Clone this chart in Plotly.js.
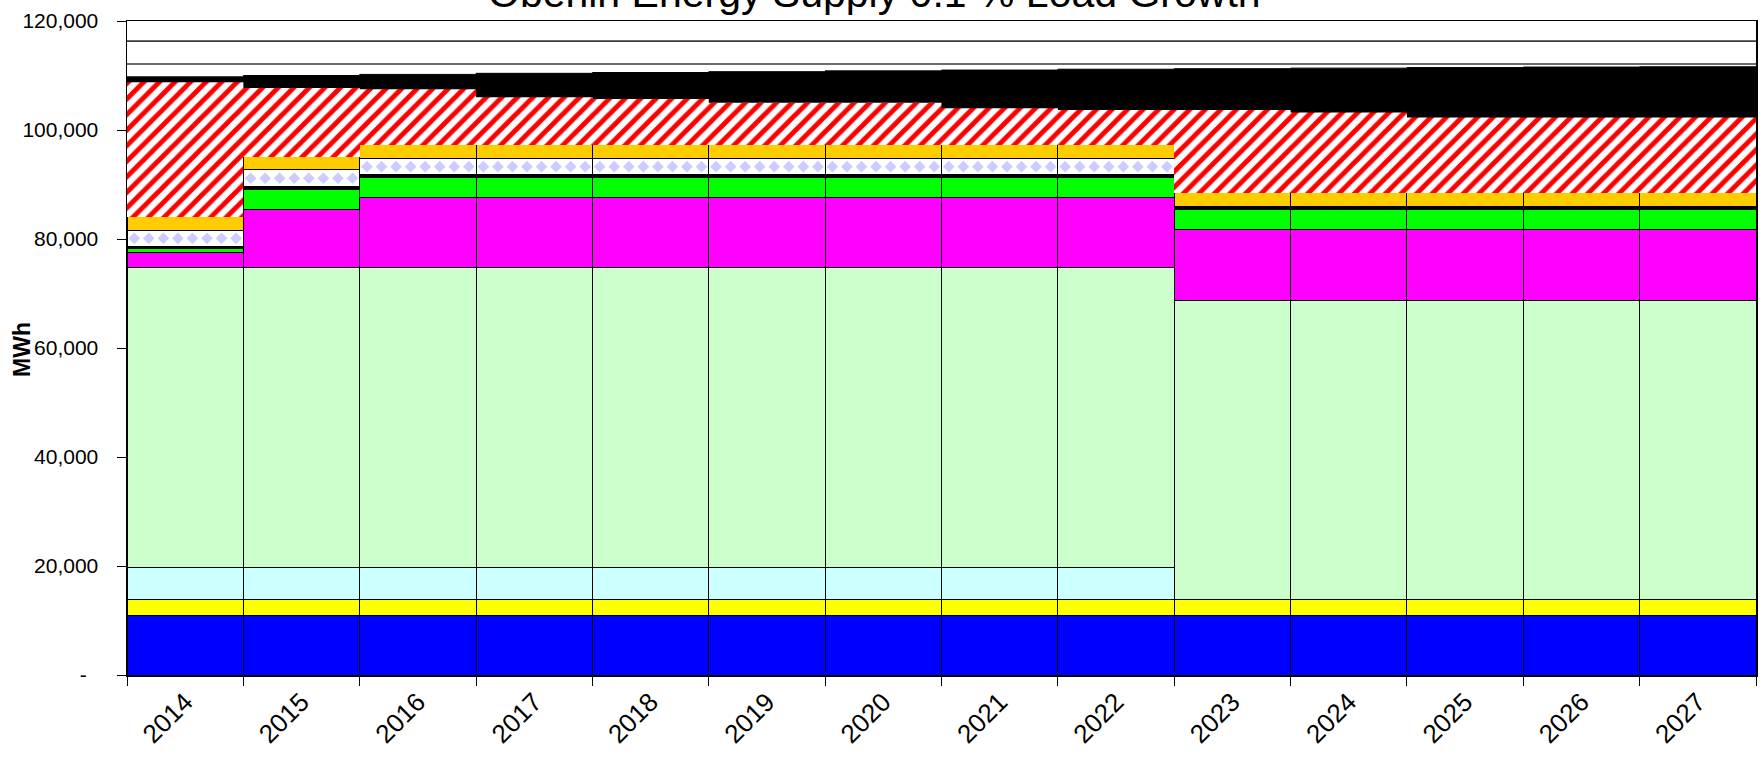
<!DOCTYPE html>
<html>
<head>
<meta charset="utf-8">
<script src="https://cdn.plot.ly/plotly-3.0.1.min.js"></script>
<style>
html,body{margin:0;padding:0;background:#fff;}
#chart{width:1764px;height:759px;}
</style>
</head>
<body>
<div id="chart"></div>
<script>
// ---- data (MWh) ----
const years = ['2014','2015','2016','2017','2018','2019','2020','2021','2022','2023','2024','2025','2026','2027'];
const supplyBlue     = [11000,11000,11000,11000,11000,11000,11000,11000,11000,11000,11000,11000,11000,11000];
const supplyYellow   = [2800,2800,2800,2800,2800,2800,2800,2800,2800,2800,2800,2800,2800,2800];
const supplyCyan     = [6000,6000,6000,6000,6000,6000,6000,6000,6000,0,0,0,0,0];
const supplyLtGreen  = [55000,55000,55000,55000,55000,55000,55000,55000,55000,55000,55000,55000,55000,55000];
const supplyMagenta  = [2650,10700,12800,12800,12800,12800,12800,12800,12800,12900,12900,12900,12900,12900];
const supplyGreen    = [750,3600,3700,3700,3700,3700,3700,3700,3700,3750,3750,3750,3750,3750];
const supplyBlack    = [400,500,500,500,500,500,500,500,500,500,500,500,500,500];
const supplyDiamond  = [3050,3100,2950,2950,2950,2950,2950,2950,2950,0,0,0,0,0];
const supplyOrange   = [2450,2400,2500,2500,2500,2500,2500,2500,2500,2500,2500,2500,2500,2500];
const marketHatch    = [24640,12600,10210,8740,8420,7740,7740,6720,6400,15200,14780,13860,13860,13860];
const loadMWh        = [109750,110000,110200,110400,110550,110700,110850,111000,111150,111250,111350,111450,111550,111600];
const refLevels      = [116300,112100];
const yTickVals      = [0,20000,40000,60000,80000,100000,120000];
const yTickText      = ['-\u00a0\u00a0','20,000','40,000','60,000','80,000','100,000','120,000'];

// ---- build traces ----
const layers = [
  {name:'Supply 1', y:supplyBlue,    color:'#0000FF'},
  {name:'Supply 2', y:supplyYellow,  color:'#FFFF00'},
  {name:'Supply 3', y:supplyCyan,    color:'#CCFFFF'},
  {name:'Supply 4', y:supplyLtGreen, color:'#CCFFCC'},
  {name:'Supply 5', y:supplyMagenta, color:'#FF00FF'},
  {name:'Supply 6', y:supplyGreen,   color:'#00FF00'},
  {name:'Supply 7', y:supplyBlack,   color:'#000000'},
  {name:'Supply 8', y:supplyDiamond, color:'#FFFFFF'},
  {name:'Supply 9', y:supplyOrange,  color:'#FFCC00'}
];
const traces = layers.map(L => ({
  type:'bar', x:years, y:L.y, name:L.name, xaxis:'x', yaxis:'y',
  marker:{color:L.color, line:{color:'#000', width:1}}, hoverinfo:'name+y'
}));
traces.push({
  type:'bar', x:years, y:marketHatch, name:'Market purchases', xaxis:'x', yaxis:'y',
  marker:{color:'#FFFFFF', line:{width:0},
          pattern:{shape:'/', fgcolor:'#FF0000', bgcolor:'#FFFFFF', size:11, solidity:0.45}}
});

// totals of stack per year
const n = years.length;
const totals = years.map((_,i)=> layers.reduce((s,L)=>s+L.y[i],0) + marketHatch[i]);
const edges = [];
for (let i=0;i<=n;i++) edges.push(i-0.5);
const stepVals = arr => arr.concat([arr[n-1]]);

traces.push({type:'scatter', mode:'lines', x:edges, y:stepVals(totals), xaxis:'x2', yaxis:'y',
  line:{width:0, shape:'hv', color:'rgba(0,0,0,0)'}, hoverinfo:'skip', showlegend:false});
traces.push({type:'scatter', mode:'lines', name:'Load', x:edges, y:stepVals(loadMWh), xaxis:'x2', yaxis:'y',
  line:{width:1, shape:'hv', color:'#000'}, fill:'tonexty', fillcolor:'#000'});

// diamond pattern markers for Supply 8
const dx=[], dy=[];
const perCol = 8;
years.forEach((_,i)=>{
  if (supplyDiamond[i] > 0) {
    let base = 0;
    for (let k=0;k<7;k++) base += layers[k].y[i];
    for (let k=0;k<perCol;k++){
      dx.push(i-0.5+(k+0.5)/perCol);
      dy.push(base + supplyDiamond[i]/2);
    }
  }
});
traces.push({type:'scatter', mode:'markers', x:dx, y:dy, xaxis:'x2', yaxis:'y',
  marker:{symbol:'diamond', size:9, color:'#CCCCFF', line:{width:0}}, hoverinfo:'skip', showlegend:false});

refLevels.forEach(v=>{
  traces.push({type:'scatter', mode:'lines', x:[edges[0], edges[n]], y:[v,v], xaxis:'x2', yaxis:'y',
    line:{color:'#3a3a3a', width:1.6}, hoverinfo:'skip', showlegend:false});
});

const layout = {
  width:1764, height:759,
  margin:{l:127, r:8, t:21, b:84},
  paper_bgcolor:'#fff', plot_bgcolor:'#fff',
  barmode:'stack', bargap:0,
  showlegend:false,
  font:{family:'Arial, "Liberation Sans", sans-serif', color:'#000'},
  xaxis:{type:'category', range:[-0.5, n-0.5], tickson:'boundaries', ticks:'outside', ticklen:9,
         tickcolor:'#000', tickwidth:1, tickangle:-45, tickfont:{size:26, color:'#000'},
         showline:true, linecolor:'#000', linewidth:1.5, mirror:true, showgrid:false, zeroline:false},
  xaxis2:{overlaying:'x', type:'linear', range:[-0.5, n-0.5], visible:false},
  yaxis:{range:[0,120000], tickvals:yTickVals, ticktext:yTickText, ticks:'outside', ticklen:9,
         tickcolor:'#000', tickwidth:1, tickfont:{size:21, color:'#000'}, ticklabelstandoff:14,
         showline:true, linecolor:'#000', linewidth:1.5, mirror:true, showgrid:false, zeroline:false},
  annotations:[
    {text:'Oberlin Energy Supply 0.1 % Load Growth', xref:'paper', yref:'paper', x:0.459, y:1.0052,
     xanchor:'center', yanchor:'bottom', showarrow:false, font:{size:41, color:'#000'}},
    {text:'<b>MWh</b>', xref:'paper', yref:'paper', x:-0.0645, y:0.4985, textangle:-90,
     xanchor:'center', yanchor:'middle', showarrow:false, font:{size:23, color:'#000'}}
  ]
};

Plotly.newPlot('chart', traces, layout, {displayModeBar:false, staticPlot:true});
</script>
</body>
</html>
